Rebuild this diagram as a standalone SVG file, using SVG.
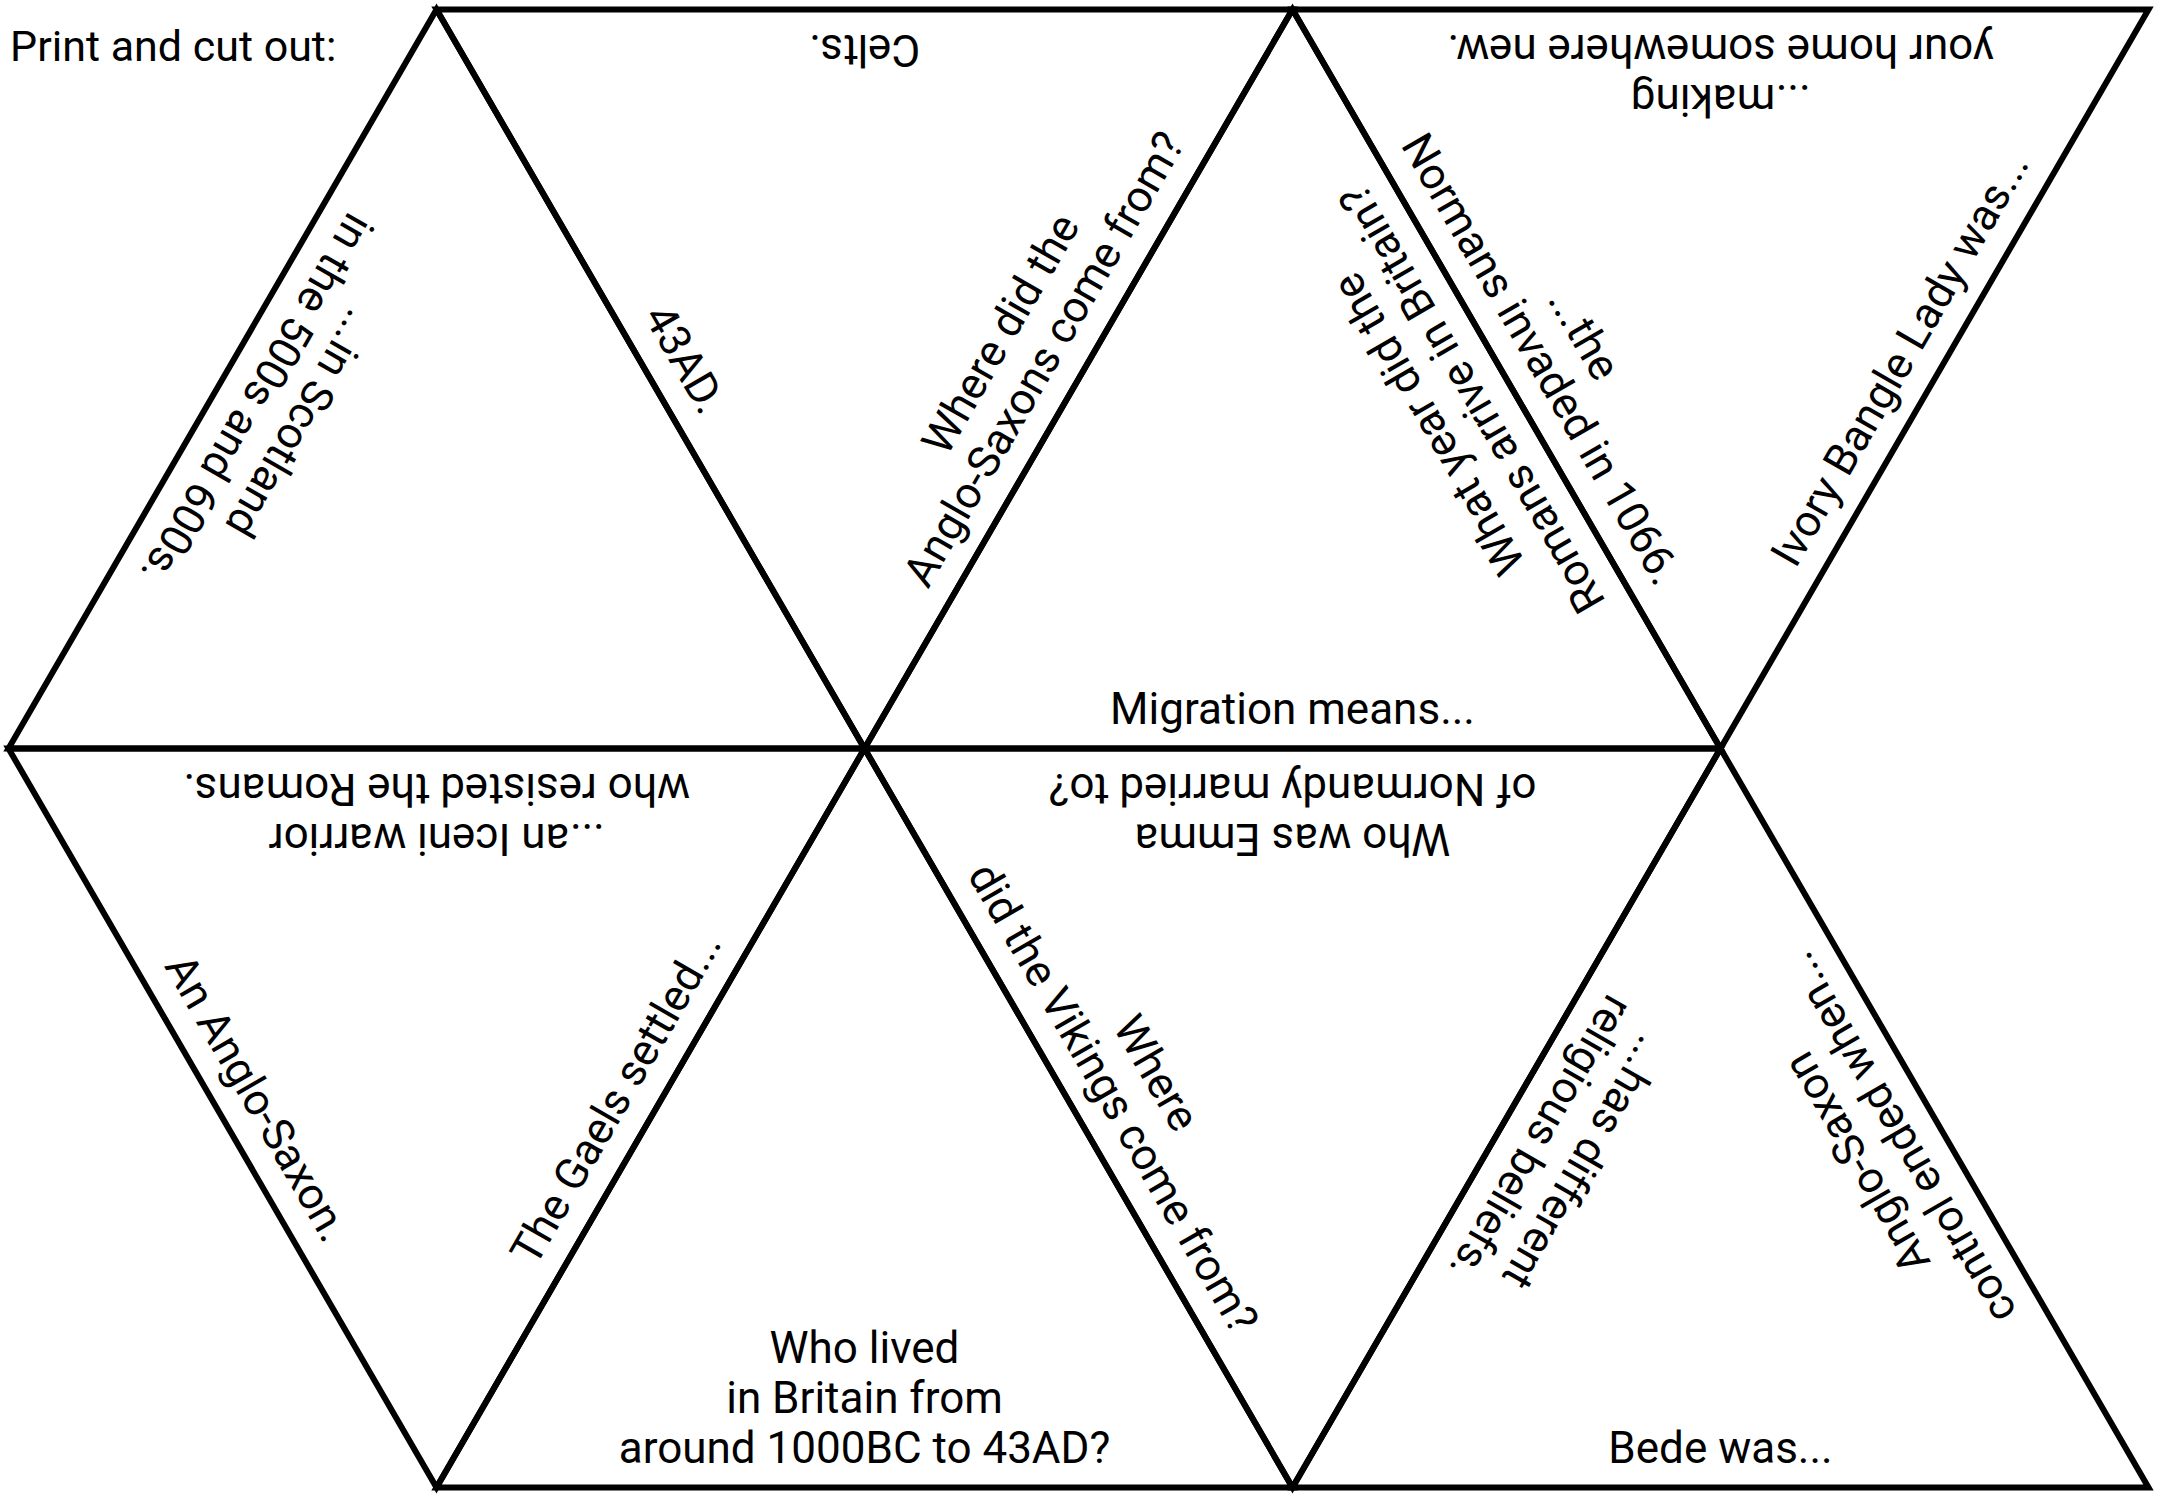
<svg xmlns="http://www.w3.org/2000/svg" width="2157" height="1495" viewBox="0 0 2157 1495">
<style>
.tri{fill:none;stroke:#000;stroke-width:6;stroke-linejoin:miter}
.t{font-family:Roboto,"Liberation Sans",sans-serif;font-size:44px;text-anchor:middle;fill:#000}
.title{font-family:Roboto,"Liberation Sans",sans-serif;font-size:43px;fill:#000}
</style>
<rect width="2157" height="1495" fill="#fff"/>
<text class="title" x="10" y="61">Print and cut out:</text>
<g id="t1">
<polygon class="tri" points="8.5,748.5 436.5,9.5 864.5,748.5"/>
<g transform="translate(222.5,379) rotate(120)"><text class="t" y="-75">...in Scotland</text><text class="t" y="-25">in the 500s and 600s.</text></g>
</g>
<g id="t2">
<polygon class="tri" points="436.5,9.5 1292.5,9.5 864.5,748.5"/>
<g transform="translate(864.5,9.5) rotate(180)"><text class="t" y="-25">Celts.</text></g>
<g transform="translate(650.5,379) rotate(60)"><text class="t" y="-25">43AD.</text></g>
<g transform="translate(1078.5,379) rotate(-60)"><text class="t" y="-75">Where did the</text><text class="t" y="-25">Anglo-Saxons come from?</text></g>
</g>
<g id="t3">
<polygon class="tri" points="1292.5,9.5 1720.5,748.5 864.5,748.5"/>
<g transform="translate(1506.5,379) rotate(-120)"><text class="t" y="-75">What year did the</text><text class="t" y="-25">Romans arrive in Britain?</text></g>
<g transform="translate(1292.5,748.5)"><text class="t" y="-25">Migration means...</text></g>
</g>
<g id="t4">
<polygon class="tri" points="1292.5,9.5 2148.5,9.5 1720.5,748.5"/>
<g transform="translate(1720.5,9.5) rotate(180)"><text class="t" y="-75">...making</text><text class="t" y="-25">your home somewhere new.</text></g>
<g transform="translate(1506.5,379) rotate(60)"><text class="t" y="-75">...the</text><text class="t" y="-25">Normans invaded in 1066.</text></g>
<g transform="translate(1934.5,379) rotate(-60)"><text class="t" y="-25">Ivory Bangle Lady was...</text></g>
</g>
<g id="t5">
<polygon class="tri" points="8.5,748.5 864.5,748.5 436.5,1487.5"/>
<g transform="translate(436.5,748.5) rotate(180)"><text class="t" y="-75">...an Iceni warrior</text><text class="t" y="-25">who resisted the Romans.</text></g>
<g transform="translate(222.5,1118) rotate(60)"><text class="t" y="-25">An Anglo-Saxon.</text></g>
<g transform="translate(650.5,1118) rotate(-60)"><text class="t" y="-25">The Gaels settled...</text></g>
</g>
<g id="t6">
<polygon class="tri" points="864.5,748.5 1292.5,1487.5 436.5,1487.5"/>
<g transform="translate(864.5,1487.5)"><text class="t" y="-125">Who lived</text><text class="t" y="-75">in Britain from</text><text class="t" y="-25">around 1000BC to 43AD?</text></g>
</g>
<g id="t7">
<polygon class="tri" points="864.5,748.5 1720.5,748.5 1292.5,1487.5"/>
<g transform="translate(1292.5,748.5) rotate(180)"><text class="t" y="-75">Who was Emma</text><text class="t" y="-25">of Normandy married to?</text></g>
<g transform="translate(1078.5,1118) rotate(60)"><text class="t" y="-75">Where</text><text class="t" y="-25">did the Vikings come from?</text></g>
</g>
<g id="t8">
<polygon class="tri" points="1720.5,748.5 2148.5,1487.5 1292.5,1487.5"/>
<g transform="translate(1506.5,1118) rotate(120)"><text class="t" y="-75">...has different</text><text class="t" y="-25">religious beliefs.</text></g>
<g transform="translate(1934.5,1118) rotate(-120)"><text class="t" y="-75">Anglo-Saxon</text><text class="t" y="-25">control ended when...</text></g>
<g transform="translate(1720.5,1487.5)"><text class="t" y="-25">Bede was...</text></g>
</g>
</svg>
